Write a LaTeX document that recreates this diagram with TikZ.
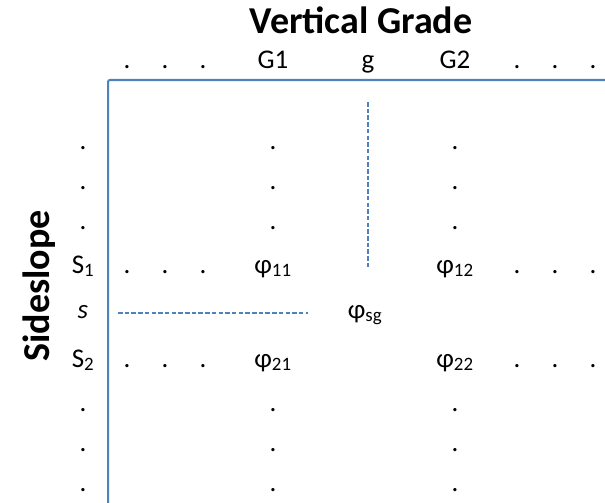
\documentclass[tikz,border=0pt]{standalone}
\usepackage{xcolor}
\usepackage{fontspec}
\setmainfont{Carlito}
\usepackage{tikz}
\usetikzlibrary{positioning}
\definecolor{gridblue}{RGB}{79,129,189}

\begin{document}
\begin{tikzpicture}[
    x=1pt,
    y=-1pt,
    cell/.style={
        anchor=base,
        inner sep=0pt,
        font=\fontsize{27}{32}\selectfont
    },
    heading/.style={
        anchor=base,
        inner sep=0pt,
        font=\fontsize{38}{45}\selectfont\bfseries
    },
    frame/.style={
        draw=gridblue,
        line width=2pt,
        rounded corners=2pt
    },
    guide/.style={
        draw=gridblue,
        line width=1.3pt,
        dash pattern=on 4.5pt off 2.2pt
    }
]
\useasboundingbox (0,0) rectangle (605,503);
% HEADINGS
\node (vgrade) [heading] at (361,34) {Vertical Grade};
\node (sslope) [heading, rotate=90] at (49,286) {Sideslope};
% TOP ROW
\node (t1) [cell] at (127,69) {.};
\node (t2) [cell] at (165,69) {.};
\node (t3) [cell] at (203,69) {.};
\node (gone) [cell] at (273,69) {G1};
\node (gmid) [cell] at (368,69) {g};
\node (gtwo) [cell] at (455,69) {G2};
\node (t4) [cell] at (517,69) {.};
\node (t5) [cell] at (555,69) {.};
\node (t6) [cell] at (593,69) {.};
% LEFT COLUMN
\node (l1) [cell] at (83,149) {.};
\node (l2) [cell] at (83,189) {.};
\node (l3) [cell] at (83,229) {.};
\node (sone) [cell] at (83,273) {S\textsubscript{1}};
\node (smid) [cell] at (83,318) {\itshape s};
\node (stwo) [cell] at (83,367) {S\textsubscript{2}};
\node (l4) [cell] at (83,411) {.};
\node (l5) [cell] at (83,451) {.};
\node (l6) [cell] at (83,491) {.};
% COLUMN G1
\node (a1) [cell] at (273,149) {.};
\node (a2) [cell] at (273,189) {.};
\node (a3) [cell] at (273,229) {.};
\node (p11) [cell] at (273,273) {φ\textsubscript{11}};
\node (p21) [cell] at (273,367) {φ\textsubscript{21}};
\node (a4) [cell] at (273,411) {.};
\node (a5) [cell] at (273,451) {.};
\node (a6) [cell] at (273,491) {.};
% COLUMN G2
\node (b1) [cell] at (455,149) {.};
\node (b2) [cell] at (455,189) {.};
\node (b3) [cell] at (455,229) {.};
\node (p12) [cell] at (455,273) {φ\textsubscript{12}};
\node (p22) [cell] at (455,367) {φ\textsubscript{22}};
\node (b4) [cell] at (455,411) {.};
\node (b5) [cell] at (455,451) {.};
\node (b6) [cell] at (455,491) {.};
% ROW S1
\node (r1) [cell] at (127,273) {.};
\node (r2) [cell] at (165,273) {.};
\node (r3) [cell] at (203,273) {.};
\node (r4) [cell] at (517,273) {.};
\node (r5) [cell] at (555,273) {.};
\node (r6) [cell] at (593,273) {.};
% ROW S2
\node (q1) [cell] at (127,367) {.};
\node (q2) [cell] at (165,367) {.};
\node (q3) [cell] at (203,367) {.};
\node (q4) [cell] at (517,367) {.};
\node (q5) [cell] at (555,367) {.};
\node (q6) [cell] at (593,367) {.};
% CROSS POINT
\node (psg) [cell] at (365,318) {φ\textsubscript{sg}};
% FRAME
\coordinate (corner) at (108,80);
\coordinate (topend) at (605,80);
\coordinate (leftend) at (108,503);
\draw [frame] (leftend) -- (corner) -- (topend);
% GUIDE LINES
\coordinate (gtop) at (368,102);
\coordinate (gbot) at (368,267);
\coordinate (sleft) at (118,313);
\coordinate (sright) at (308,313);
\draw [guide] (gtop) -- (gbot);
\draw [guide] (sleft) -- (sright);
\end{tikzpicture}
\end{document}
